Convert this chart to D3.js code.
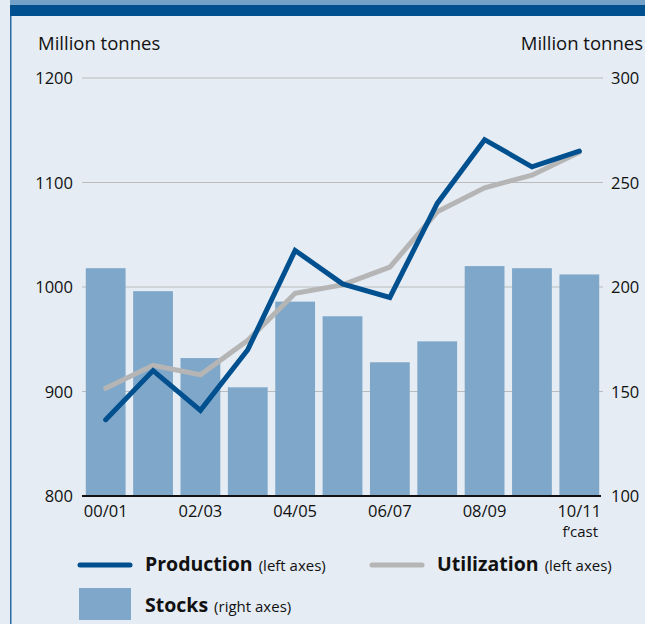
<!DOCTYPE html>
<html>
<head>
<meta charset="utf-8">
<script src="https://cdn.jsdelivr.net/npm/d3@7"></script>
<style>
  body { margin: 0; background: #e5ecf3; }
  svg { display: block; }
  text { font-family: "Open Sans", sans-serif; fill: #111; }
</style>
</head>
<body>
<script>
// seasons, one per bar
var seasons = ["00/01", "01/02", "02/03", "03/04", "04/05", "05/06", "06/07", "07/08", "08/09", "09/10", "10/11"];
// left axis, million tonnes
var production = [873, 920, 882, 940, 1035, 1003, 990, 1080, 1141, 1115, 1130];
var utilization = [903, 925, 916, 949, 994, 1002, 1019, 1072, 1095, 1107, 1129];
// right axis, million tonnes
var stocks = [209, 198, 166, 152, 193, 186, 164, 174, 210, 209, 206];
var leftTicks = [800, 900, 1000, 1100, 1200];
var rightTicks = [100, 150, 200, 250, 300];

var W = 645, H = 624;
var svg = d3.select("body").append("svg").attr("width", W).attr("height", H);

// frame bits
svg.append("rect").attr("x", 10).attr("y", 0).attr("width", W - 10).attr("height", 5).attr("fill", "#74a1c7");
svg.append("rect").attr("x", 10).attr("y", 5).attr("width", W - 10).attr("height", 11).attr("fill", "#00508f");
svg.append("rect").attr("x", 10).attr("y", 16).attr("width", 1.5).attr("height", H - 16).attr("fill", "#2a6aa3");

var x0 = 82, x1 = 603, yTop = 78, yBot = 496;

var x = d3.scaleBand().domain(seasons).range([x0, x1]).paddingInner(0.16).paddingOuter(0.08);
var yL = d3.scaleLinear().domain([800, 1200]).range([yBot, yTop]);
var yR = d3.scaleLinear().domain([100, 300]).range([yBot, yTop]);

// grid
svg.append("g").selectAll("line").data(leftTicks.slice(1)).enter().append("line")
    .attr("x1", x0).attr("x2", x1)
    .attr("y1", d => yL(d)).attr("y2", d => yL(d))
    .attr("stroke", "#b9bbbd").attr("stroke-width", 1.2);

// axes labels (left / right)
svg.append("g").selectAll("text").data(leftTicks).enter().append("text")
    .attr("x", 73).attr("y", d => yL(d) + 6)
    .attr("text-anchor", "end").attr("font-size", 16.5)
    .text(d => d);
svg.append("g").selectAll("text").data(rightTicks).enter().append("text")
    .attr("x", 611).attr("y", d => yR(d) + 6)
    .attr("font-size", 16.5)
    .text(d => d);

svg.append("text").attr("x", 38).attr("y", 50).attr("font-size", 18.5).text("Million tonnes");
svg.append("text").attr("x", 643).attr("y", 50).attr("font-size", 18.5).attr("text-anchor", "end").text("Million tonnes");

// stocks bars
svg.append("g").selectAll("rect").data(stocks).enter().append("rect")
    .attr("x", (d, i) => x(seasons[i]))
    .attr("width", x.bandwidth())
    .attr("y", d => yR(d))
    .attr("height", d => yBot - yR(d))
    .attr("fill", "#7fa7c9");

// baseline
svg.append("line").attr("x1", x0).attr("x2", x1 - 2).attr("y1", yBot).attr("y2", yBot)
    .attr("stroke", "#111").attr("stroke-width", 2);

// x labels, every other one
svg.append("g").selectAll("text").data(seasons.filter((d, i) => i % 2 == 0)).enter().append("text")
    .attr("x", d => x(d) + x.bandwidth() / 2)
    .attr("y", 517)
    .attr("text-anchor", "middle").attr("font-size", 16.5)
    .text(d => d);
svg.append("text").attr("x", x("10/11") + x.bandwidth() / 2 + 1).attr("y", 537)
    .attr("text-anchor", "middle").attr("font-size", 15).text("f\u2019cast");

var line = d3.line()
    .x((d, i) => x(seasons[i]) + x.bandwidth() / 2);

svg.append("path").datum(utilization)
    .attr("d", line.y(d => yL(d)))
    .attr("fill", "none").attr("stroke", "#b5b5b5").attr("stroke-width", 5)
    .attr("stroke-linecap", "round").attr("stroke-linejoin", "miter");

svg.append("path").datum(production)
    .attr("d", line.y(d => yL(d)))
    .attr("fill", "none").attr("stroke", "#00508f").attr("stroke-width", 5)
    .attr("stroke-linecap", "round").attr("stroke-linejoin", "miter");

// legend
var lg = svg.append("g");
lg.append("line").attr("x1", 80).attr("x2", 130).attr("y1", 565).attr("y2", 565)
    .attr("stroke", "#00508f").attr("stroke-width", 5).attr("stroke-linecap", "round");
var t1 = lg.append("text").attr("x", 145).attr("y", 571);
t1.append("tspan").attr("font-size", 19.5).attr("font-weight", "bold").text("Production");
t1.append("tspan").attr("font-size", 15).attr("dx", 6).text("(left axes)");

lg.append("line").attr("x1", 372).attr("x2", 422).attr("y1", 565).attr("y2", 565)
    .attr("stroke", "#b5b5b5").attr("stroke-width", 5).attr("stroke-linecap", "round");
var t2 = lg.append("text").attr("x", 437).attr("y", 571);
t2.append("tspan").attr("font-size", 19.5).attr("font-weight", "bold").text("Utilization");
t2.append("tspan").attr("font-size", 15).attr("dx", 6).text("(left axes)");

lg.append("rect").attr("x", 79).attr("y", 588).attr("width", 52).attr("height", 32).attr("fill", "#7fa7c9");
var t3 = lg.append("text").attr("x", 145).attr("y", 612);
t3.append("tspan").attr("font-size", 19.5).attr("font-weight", "bold").text("Stocks");
t3.append("tspan").attr("font-size", 15).attr("dx", 6).text("(right axes)");
</script>
</body>
</html>
